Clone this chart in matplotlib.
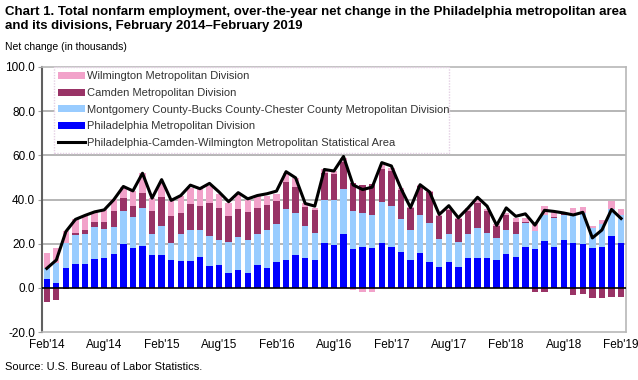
import numpy as np
import matplotlib
matplotlib.use("Agg")
import matplotlib.pyplot as plt

# month labels, Feb 2014 .. Feb 2019 (61 months)
months = ["Feb'14", "Aug'14", "Feb'15", "Aug'15", "Feb'16", "Aug'16",
          "Feb'17", "Aug'17", "Feb'18", "Aug'18", "Feb'19"]

# over-the-year change, thousands
philadelphia = [4.2, 2.4, 8.8, 10.6, 10.6, 13.1, 13.7, 15.1, 19.8, 18.0, 18.9, 14.7,
                14.7, 12.8, 12.2, 12.2, 14.0, 10.0, 10.3, 6.9, 8.0, 6.9, 10.4, 8.9,
                11.5, 12.8, 14.7, 13.7, 12.8, 20.1, 19.2, 24.2, 17.8, 18.7, 18.0, 20.5,
                18.4, 16.3, 12.5, 15.7, 11.5, 9.4, 11.5, 9.5, 13.3, 13.7, 13.7, 12.5,
                15.1, 14.0, 18.4, 17.5, 21.3, 18.6, 21.5, 20.5, 19.8, 18.0, 18.4, 23.4,
                20.5]
montgomery = [4.9, 8.8, 11.3, 13.3, 14.0, 14.4, 13.0, 12.5, 14.9, 14.3, 17.4, 9.8,
              13.5, 7.3, 12.0, 14.2, 12.4, 13.4, 11.2, 13.8, 15.1, 14.6, 13.8, 17.2,
              17.5, 22.7, 19.0, 14.2, 12.1, 19.9, 20.8, 20.4, 16.9, 15.3, 15.2, 18.3,
              18.6, 14.7, 13.9, 17.1, 18.0, 12.8, 12.7, 11.2, 11.3, 13.5, 11.2, 10.0,
              11.0, 10.6, 11.1, 8.2, 11.9, 13.1, 11.7, 12.7, 14.2, 9.2, 10.3, 12.1,
              12.7]
camden = [-6.4, -5.4, -0.6, 1.0, 1.5, 2.3, 3.1, 7.2, 5.8, 4.9, 6.8, 10.2,
          13.0, 12.4, 9.5, 11.4, 10.6, 14.8, 14.5, 11.8, 12.7, 12.8, 11.8, 11.2,
          10.3, 12.4, 12.1, 8.8, 10.3, 12.1, 11.7, 12.4, 12.6, 12.4, 13.6, 15.1,
          15.9, 13.3, 9.9, 13.3, 13.9, 10.3, 11.0, 10.6, 10.4, 11.3, 9.8, 5.7,
          7.1, 5.2, 0.3, -2.0, -2.1, 0.3, 0.2, -3.1, -2.8, -4.6, -4.6, -4.0,
          -4.2]
wilmington = [6.5, 6.8, 5.6, 6.2, 6.3, 4.5, 5.8, 5.3, 5.2, 6.7, 8.8, 5.9,
              6.4, 6.8, 7.8, 7.5, 7.6, 7.9, 6.6, 5.7, 6.5, 5.7, 5.5, 4.2,
              3.0, 4.2, 4.0, 1.5, 1.0, 1.5, 1.2, 1.9, -0.9, -2.1, -1.7, 1.5,
              1.5, 0.8, 0.5, 0.5, 0.6, 0.3, 0.6, 0.3, 1.0, 1.2, 0.8, 0.5,
              0.5, 1.9, 1.9, 4.0, 3.8, 2.3, 0.8, 2.8, 2.7, 1.0, 2.0, 3.8,
              2.3]
msa_total = [8.8, 12.6, 25.5, 31.0, 32.8, 34.4, 35.3, 39.9, 45.9, 43.9, 51.9, 40.6,
             49.0, 39.6, 41.8, 46.5, 44.9, 47.3, 43.4, 39.0, 43.1, 40.3, 41.8, 42.6,
             43.8, 52.6, 49.8, 38.2, 37.0, 53.6, 52.9, 59.5, 46.6, 44.5, 45.6, 56.7,
             55.2, 45.0, 36.3, 46.7, 43.4, 33.2, 37.2, 31.7, 36.1, 41.0, 37.0, 28.3,
             36.2, 32.4, 33.5, 28.4, 35.1, 34.6, 33.9, 33.0, 34.2, 22.6, 26.2, 35.5,
             31.4]

labels = ["Philadelphia Metropolitan Division",
          "Montgomery County-Bucks County-Chester County Metropolitan Division",
          "Camden Metropolitan Division",
          "Wilmington Metropolitan Division"]
colors = ["#0000FF", "#99CCFF", "#993366", "#F2A2CA"]
font = "Liberation Sans"

fig = plt.figure(figsize=(6.38, 3.80), dpi=100)
ax = fig.add_axes([0.0658, 0.1263, 0.9152, 0.6974])

x = np.arange(len(philadelphia))
pos_base = np.zeros(len(x))
neg_base = np.zeros(len(x))
bars = {}
for vals, lab, col in zip([philadelphia, montgomery, camden, wilmington], labels, colors):
    v = np.array(vals)
    base = np.where(v >= 0, pos_base, neg_base)
    bars[lab] = ax.bar(x, v, bottom=base, width=0.66, color=col, linewidth=0, zorder=2)
    pos_base += np.clip(v, 0, None)
    neg_base += np.clip(v, None, 0)

line, = ax.plot(x, msa_total, color="black", lw=2.2, zorder=4,
                label="Philadelphia-Camden-Wilmington Metropolitan Statistical Area")

ax.axhline(0, color="black", lw=1.2, zorder=3)
for g in [20, 40, 60, 80]:
    ax.axhline(g, color="#B0B0B0", lw=1.3, zorder=1)

ax.set_xlim(-0.5, len(x) - 0.5)
ax.set_ylim(-20, 100)
ax.set_yticks(np.arange(-20, 101, 20))
ax.set_yticklabels([f"{t:.1f}" for t in np.arange(-20, 101, 20)], fontsize=8.5, family=font)
ax.set_xticks(np.arange(0, len(x), 6))
ax.set_xticklabels(months, fontsize=8.5, family=font)
ax.tick_params(axis="x", length=0, pad=5)
ax.tick_params(axis="y", length=3, width=0.8, color="#A0A0A0", pad=2)

for side in ["top", "right", "bottom"]:
    ax.spines[side].set_color("#B8B8B8")
    ax.spines[side].set_linewidth(1.2)
ax.spines["left"].set_color("#606060")
ax.spines["left"].set_linewidth(1.5)

handles = [bars[labels[3]], bars[labels[2]], bars[labels[1]], bars[labels[0]], line]
names = [labels[3], labels[2], labels[1], labels[0], line.get_label()]
leg = ax.legend(handles, names, loc="upper left", bbox_to_anchor=(0.02, 0.0, 0.677, 1.0),
                mode="expand", prop={"family": font, "size": 8},
                handlelength=2.4, handleheight=0.6, handletextpad=0.2,
                labelspacing=0.6, borderaxespad=0, borderpad=0.4,
                fancybox=False, framealpha=1, edgecolor="#E4D0E4")
leg.get_frame().set_linestyle((0, (1, 1)))
leg.set_zorder(5)
for t in leg.get_texts():
    t.set_color("#333333")

fig.text(0.008, 0.985, "Chart 1. Total nonfarm employment, over-the-year net change in the Philadelphia metropolitan area\n"
         "and its divisions, February 2014\u2013February 2019",
         ha="left", va="top", fontsize=9.5, fontweight="bold", family=font, linespacing=1.3)
fig.text(0.008, 0.876, "Net change (in thousands)", ha="left", va="center", fontsize=7.5,
         family=font)
fig.text(0.008, 0.035, "Source: U.S. Bureau of Labor Statistics.", ha="left", va="center",
         fontsize=8, family=font)

fig.savefig("out.png", dpi=100)
